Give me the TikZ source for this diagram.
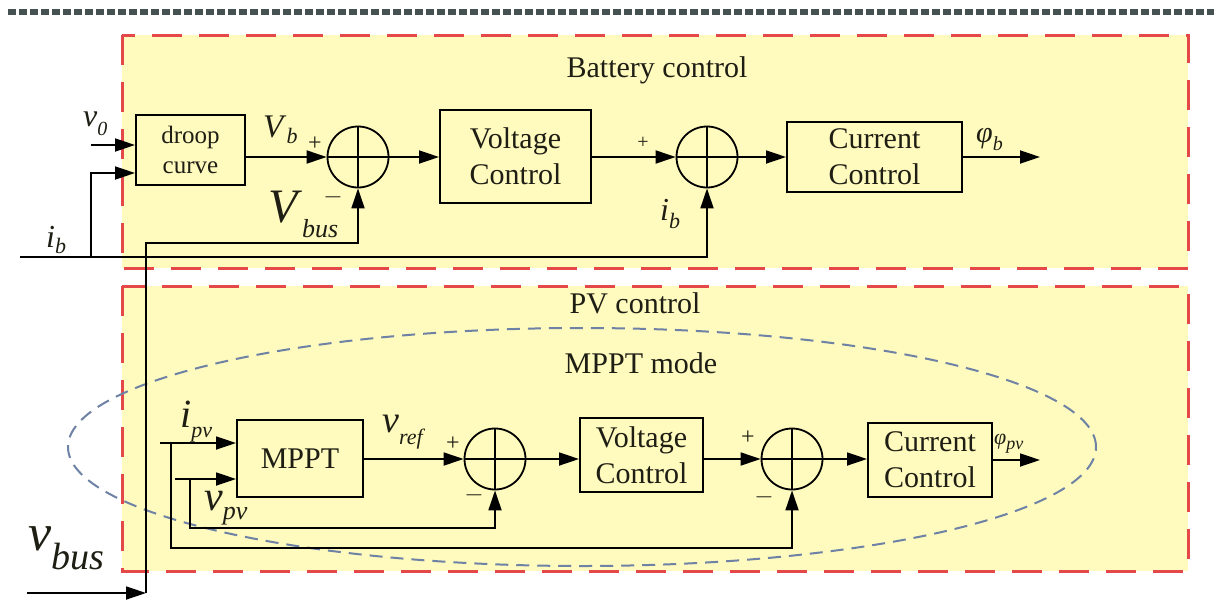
\documentclass[tikz,border=0pt]{standalone}
\usepackage{fontspec}
\setmainfont{Liberation Serif}
\usetikzlibrary{arrows.meta,calc}
\definecolor{boxyel}{RGB}{255,250,190}
\definecolor{dashred}{RGB}{228,72,72}
\definecolor{ellblue}{RGB}{110,130,165}
\definecolor{topbar}{RGB}{70,82,82}
\definecolor{inkc}{RGB}{30,30,20}
% #1 main, #2 sub, #3 main size, #4 sub size, #5 drop
\newcommand\symlab[5]{{\fontsize{#3}{#3}\selectfont\textit{#1}}\raisebox{-#5pt}{\fontsize{#4}{#4}\selectfont\textit{#2}}}
\begin{document}
\begin{tikzpicture}[x=1pt,y=-1pt,
  ln/.style={line width=1.8pt,draw=black},
  sig/.style={line width=1.8pt,draw=black,-{Triangle[length=20pt,width=13pt]}},
  blk/.style={draw=black,line width=2pt,align=center,inner sep=0pt,text=inkc,font=\fontsize{30}{36}\selectfont},
  sumc/.style={draw=black,circle,line width=1.8pt,minimum size=61pt,inner sep=0pt},
  region/.style={fill=boxyel,draw=dashred,line width=3pt,dash pattern=on 30pt off 17pt},
  ttl/.style={inner sep=0pt,text=inkc,font=\fontsize{30}{36}\selectfont},
  lab/.style={inner sep=0pt,text=inkc},
  sgn/.style={inner sep=0pt,text=inkc,font=\fontsize{24}{24}\selectfont},
]
\useasboundingbox (0,0) rectangle (1214,608);
\fill[white] (0,0) rectangle (1214,608);
\draw[topbar,line width=6pt,dash pattern=on 8pt off 3pt] (8,12) -- (1214,12);

% regions
\path[region] (122,35) rectangle (1188,268);
\path[region] (122,286) rectangle (1188,571);
\draw[ellblue,line width=2pt,dash pattern=on 13pt off 8pt] (582,447) ellipse [x radius=514pt, y radius=119pt];

% titles
\node[ttl] (tbat) at (657,70) {Battery control};
\node[ttl] (tpv) at (635,303) {PV control};
\node[ttl] (tmppt) at (641,363) {MPPT mode};

% battery row
\node[blk,minimum width=109pt,minimum height=70pt,font=\fontsize{25}{30}\selectfont] (droop) at (190.5,150) {droop\\curve};
\node[sumc] (s1) at (358,157) {};
\node[blk,minimum width=151pt,minimum height=93pt] (vc1) at (515.5,156.5) {Voltage\\Control};
\node[sumc] (s2) at (707,157) {};
\node[blk,minimum width=175pt,minimum height=70pt] (cc1) at (874.5,157) {Current\\Control};

% pv row
\node[blk,minimum width=126pt,minimum height=77pt] (mppt) at (300,458.5) {MPPT};
\node[sumc] (s3) at (495,459) {};
\node[blk,minimum width=123pt,minimum height=74pt] (vc2) at (641.5,455) {Voltage\\Control};
\node[sumc] (s4) at (792,459) {};
\node[blk,minimum width=124pt,minimum height=74pt] (cc2) at (930,460) {Current\\Control};

% summer crosses
\foreach \s in {s1,s2,s3,s4}{
  \draw[ln] (\s.west) -- (\s.east) (\s.north) -- (\s.south);
}

% coordinates of free ends
\coordinate (v0in) at (91,145);
\coordinate (ibin) at (20,257);
\coordinate (ibj) at (91,257);
\coordinate (ibrow) at (91,173);
\coordinate (vbin) at (27,593);
\coordinate (vbc) at (146,593);
\coordinate (vbtop) at (146,243);
\coordinate (phib) at (1040,157);
\coordinate (ipvin) at (160,443);
\coordinate (ipvj) at (171,443);
\coordinate (ipvlow) at (171,548);
\coordinate (vpvin) at (175,479);
\coordinate (vpvj) at (190,479);
\coordinate (vpvlow) at (190,528);
\coordinate (phipv) at (1040,460);

% battery connectors
\draw[sig] (v0in) -- (v0in -| droop.west);
\draw[sig] (ibj) -- (ibrow) -- (ibrow -| droop.west);
\draw[sig] (ibin) -| (s2.south);
\draw[sig] (droop.east |- s1.west) -- (s1.west);
\draw[sig] (s1.east) -- (s1.east -| vc1.west);
\draw[sig] (vc1.east |- s2.west) -- (s2.west);
\draw[sig] (s2.east) -- (s2.east -| cc1.west);
\draw[sig] (cc1.east |- phib) -- (phib);
\draw[sig] (vbin) -- (vbc);
\draw[sig] (vbc) -- (vbtop) -| (s1.south);

% pv connectors
\draw[sig] (ipvin) -- (ipvin -| mppt.west);
\draw[sig] (vpvin) -- (vpvin -| mppt.west);
\draw[sig] (ipvj) -- (ipvlow) -| (s4.south);
\draw[sig] (vpvj) -- (vpvlow) -| (s3.south);
\draw[sig] (mppt.east |- s3.west) -- (s3.west);
\draw[sig] (s3.east) -- (s3.east -| vc2.west);
\draw[sig] (vc2.east |- s4.west) -- (s4.west);
\draw[sig] (s4.east) -- (s4.east -| cc2.west);
\draw[sig] (cc2.east |- phipv) -- (phipv);

% labels
\node[lab,anchor=base west] (lv0) at (83,126) {\symlab{v}{0}{32}{20}{9}};
\node[lab,anchor=base west] (lvb) at (263,137) {\symlab{V}{b}{33}{22}{6}};
\node[sgn] (p1) at (315,144) {+};
\node[sgn] (m1) at (333,197) {$-$};
\node[lab,anchor=base west] (lvbus) at (268,222) {\symlab{V}{bus}{48}{26}{15}};
\node[lab,anchor=base west] (lib1) at (46,247) {\symlab{i}{b}{32}{22}{6}};
\node[sgn,font=\fontsize{20}{20}\selectfont] (p2) at (643,143) {+};
\node[lab,anchor=base west] (lib2) at (660,220) {\symlab{i}{b}{32}{22}{8}};
\node[lab,anchor=base west] (lphib) at (976,142) {\symlab{φ}{b}{30}{20}{8}};

\node[lab,anchor=base west] (lipv) at (180,427) {\symlab{i}{pv}{40}{22}{10}};
\node[lab,anchor=base west] (lvpv) at (204,510) {\symlab{v}{pv}{42}{26}{9}};
\node[lab,anchor=base west] (lvref) at (382,432) {\symlab{v}{ref}{38}{22}{12}};
\node[sgn] (p3) at (453,444) {+};
\node[sgn] (m3) at (474,495) {$-$};
\node[sgn] (p4) at (748,438) {+};
\node[sgn] (m4) at (764,497) {$-$};
\node[lab,anchor=base west] (lphipv) at (994,444) {\symlab{φ}{pv}{22}{18}{5}};
\node[lab,anchor=base west] (lvbus2) at (28,550) {\symlab{v}{bus}{52}{38}{19}};
\end{tikzpicture}
\end{document}
